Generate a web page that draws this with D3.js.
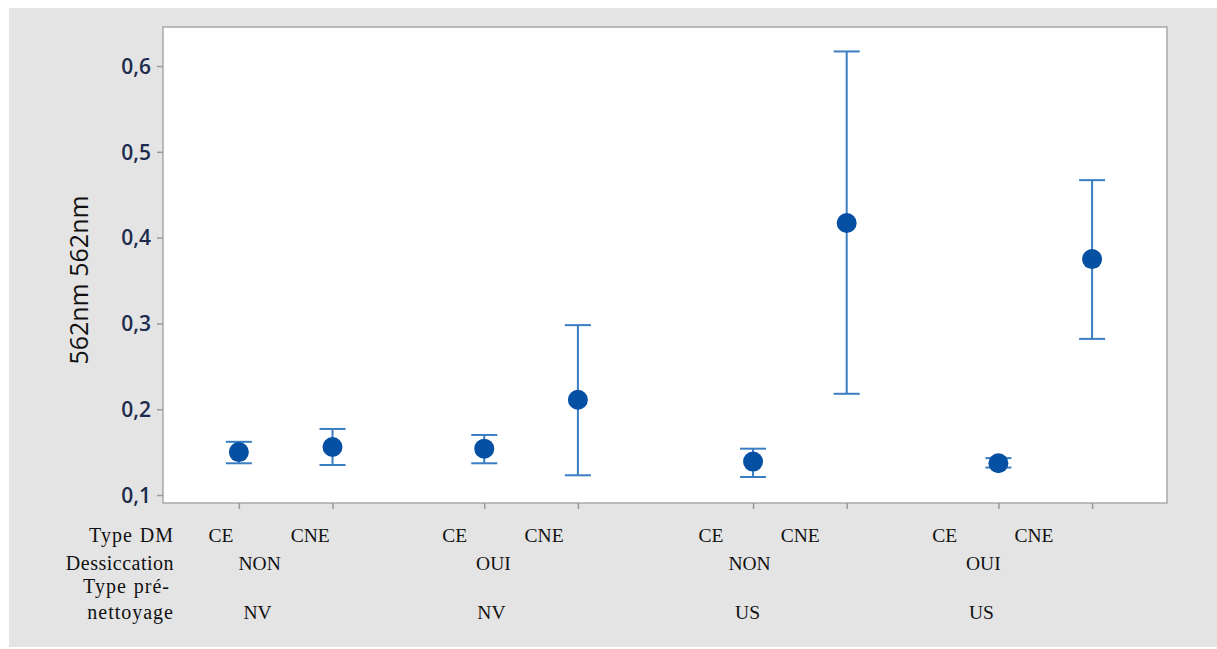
<!DOCTYPE html>
<html><head><meta charset="utf-8">
<script src="https://cdn.jsdelivr.net/npm/d3@7"></script>
<style>body{margin:0;background:#fff;overflow:hidden}</style></head>
<body><svg id="c" width="1217" height="649"></svg>
<script>
// ---- data ----
const typeDM = ["CE","CNE","CE","CNE","CE","CNE","CE","CNE"];
const dessiccation = ["NON","NON","OUI","OUI","NON","NON","OUI","OUI"];
const preNettoyage = ["NV","NV","NV","NV","US","US","US","US"];
const means = [0.150,0.156,0.154,0.211,0.139,0.417,0.137,0.375];
const upper = [0.162,0.177,0.170,0.298,0.154,0.617,0.143,0.467];
const lower = [0.137,0.135,0.137,0.123,0.121,0.218,0.132,0.282];
const yTicks = [0.1,0.2,0.3,0.4,0.5,0.6];
const yTickLabels = ["0,1","0,2","0,3","0,4","0,5","0,6"];
const rowLabels = [["Type DM"],["Dessiccation"],["Type pré-","nettoyage"]];
const yTitle = "562nm 562nm";

// ---- layout ----
const W = 1217, H = 649;
const plot = {l:163, t:27, r:1167, b:503};
const svg = d3.select("#c");

// categorical positions with group gaps
const pos = [];
let p = 0;
typeDM.forEach((d,i)=>{
  if(i>0){
    if(preNettoyage[i]!==preNettoyage[i-1]) p += 1.87;
    else if(dessiccation[i]!==dessiccation[i-1]) p += 1.62;
    else p += 1;
  }
  pos.push(p);
});
const data = typeDM.map((t,i)=>({t, d:dessiccation[i], pn:preNettoyage[i], pos:pos[i], m:means[i], hi:upper[i], lo:lower[i]}));

const x = d3.scaleLinear().domain([-0.81, 9.91]).range([plot.l, plot.r]);
const xl = d3.scaleLinear().domain([0, pos[pos.length-1]]).range([221, 1034]);
const y = d3.scaleLinear().domain([0.0907, 0.6455]).range([plot.b, plot.t]);

// background
svg.append("rect").attr("x",9).attr("y",8).attr("width",W-9).attr("height",639).attr("fill","#e4e4e4");
svg.append("rect").attr("x",plot.l).attr("y",plot.t).attr("width",plot.r-plot.l).attr("height",plot.b-plot.t)
  .attr("fill","#fff").attr("stroke","#a8a8a8").attr("stroke-width",1.5);

// y axis
const yAxis = d3.axisLeft(y).tickValues(yTicks).tickSize(6).tickFormat((d,i)=>yTickLabels[i]);
const ga = svg.append("g").attr("transform",`translate(${plot.l},0)`).call(yAxis);
ga.select(".domain").remove();
ga.selectAll(".tick line").attr("stroke","#9a9a9a").attr("stroke-width",1.5);
ga.selectAll(".tick text").attr("x",-12).attr("font-family","'Open Sans', sans-serif").attr("font-size",21)
  .attr("font-weight",600).attr("fill","#1d2b4c").attr("dy","0.35em");

// x axis ticks
const xAxis = d3.axisBottom(x).tickValues(pos).tickSize(6).tickFormat("");
const gx = svg.append("g").attr("transform",`translate(0,${plot.b})`).call(xAxis);
gx.select(".domain").remove();
gx.selectAll(".tick line").attr("stroke","#9a9a9a").attr("stroke-width",1.5);

// y title
svg.append("text").attr("transform","translate(78,280) rotate(-90)").attr("text-anchor","middle")
  .attr("dominant-baseline","central").attr("font-family","'Open Sans', sans-serif").attr("font-size",25)
  .attr("fill","#111").text(yTitle);

// error bars
const lineCol = "#3a7dc2", dotCol = "#0550a3", cap = 13;
const eb = svg.append("g");
eb.selectAll("line.v").data(data).join("line").attr("class","v")
  .attr("x1",d=>x(d.pos)).attr("x2",d=>x(d.pos)).attr("y1",d=>y(d.hi)).attr("y2",d=>y(d.lo))
  .attr("stroke",lineCol).attr("stroke-width",2);
eb.selectAll("line.hi").data(data).join("line").attr("class","hi")
  .attr("x1",d=>x(d.pos)-cap).attr("x2",d=>x(d.pos)+cap).attr("y1",d=>y(d.hi)).attr("y2",d=>y(d.hi))
  .attr("stroke",lineCol).attr("stroke-width",2);
eb.selectAll("line.lo").data(data).join("line").attr("class","lo")
  .attr("x1",d=>x(d.pos)-cap).attr("x2",d=>x(d.pos)+cap).attr("y1",d=>y(d.lo)).attr("y2",d=>y(d.lo))
  .attr("stroke",lineCol).attr("stroke-width",2);
eb.selectAll("circle").data(data).join("circle")
  .attr("cx",d=>x(d.pos)).attr("cy",d=>y(d.m)).attr("r",10).attr("fill",dotCol);

// x labels
const serif = "'Liberation Serif','Times New Roman',serif";
const rowBase = [542, 570, 619];
const rl = svg.append("g").attr("font-family",serif).attr("font-size",20).attr("fill","#111")
  .attr("text-anchor","end").attr("letter-spacing","1px").attr("word-spacing","1px");
rl.append("text").attr("x",174).attr("y",rowBase[0]).text(rowLabels[0][0]);
rl.append("text").attr("x",174).attr("y",rowBase[1]).attr("letter-spacing","0.5px").text(rowLabels[1][0]);
rl.append("text").attr("x",170).attr("y",593).text(rowLabels[2][0]);
rl.append("text").attr("x",174).attr("y",rowBase[2]).text(rowLabels[2][1]);

const cl = svg.append("g").attr("font-family",serif).attr("font-size",19.5).attr("fill","#111").attr("text-anchor","middle");
cl.selectAll("text.dm").data(data).join("text").attr("class","dm")
  .attr("x",d=>xl(d.pos)).attr("y",rowBase[0]).text(d=>d.t);
const pairs = d3.range(0, data.length, 2).map(i=>({a:data[i], b:data[i+1]}));
cl.selectAll("text.ds").data(pairs).join("text").attr("class","ds")
  .attr("x",d=>(xl(d.a.pos)+xl(d.b.pos))/2 - 6).attr("y",rowBase[1]).text(d=>d.a.d);
cl.selectAll("text.pn").data(pairs).join("text").attr("class","pn")
  .attr("x",d=>(xl(d.a.pos)+xl(d.b.pos))/2 - 8).attr("y",rowBase[2]).text(d=>d.a.pn);
</script></body></html>
